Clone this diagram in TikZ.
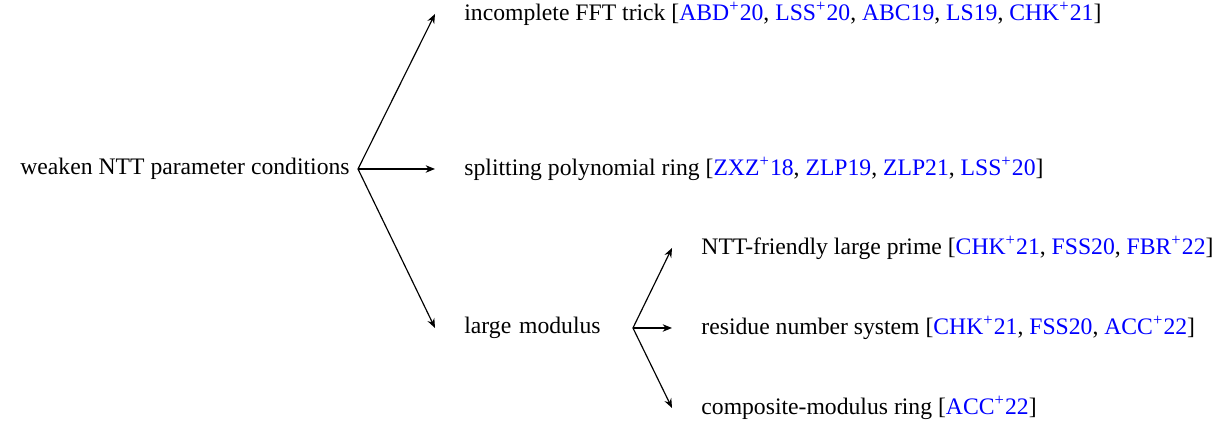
\documentclass[tikz,border=0pt]{standalone}
\usepackage{fontspec}
\setmainfont{Liberation Serif}
\usepackage{xcolor}
\usetikzlibrary{arrows.meta}
\newcommand{\bibref}[1]{{\color{blue}#1}}
\newcommand{\plus}{\textsuperscript{+}}
\tikzset{
	leaf/.style={anchor=west, inner xsep=12.3pt},
	>={Stealth[length=4pt,width=3.2pt]},
}
\begin{document}
\begin{tikzpicture}[font=\fontsize{10.1}{12.2}\selectfont, line width=0.5pt]
						\useasboundingbox (0,0) rectangle (18.3,6.42);
						\node[anchor=east] (root) at (5.37,3.885) {weaken NTT parameter conditions};
						\node[leaf] (fft) at (6.525,6.21) {incomplete FFT trick [\bibref{ABD\plus20}, \bibref{LSS\plus20}, \bibref{ABC19}, \bibref{LS19}, \bibref{CHK\plus21}]};
						\node[leaf] (poly) at (6.525,3.885) {splitting polynomial ring [\bibref{ZXZ\plus18}, \bibref{ZLP19}, \bibref{ZLP21}, \bibref{LSS\plus20}]};
						\node[leaf, text width=2.087cm, align=left] (mod) at (6.525,1.5) {large modulus};
						\node[leaf] (prime) at (10.08,2.7) {NTT-friendly large prime [\bibref{CHK\plus21}, \bibref{FSS20}, \bibref{FBR\plus22}]};
						\node[leaf] (rns) at (10.08,1.5) {residue number system [\bibref{CHK\plus21}, \bibref{FSS20}, \bibref{ACC\plus22}]};
						\node[leaf] (comp) at (10.08,0.3) {composite-modulus ring [\bibref{ACC\plus22}]};
			
						\path [->] (root.east) edge (fft.west);
						\path [->] (root.east) edge (poly.west);
						\path [->] (root.east) edge (mod.west);
						\path [->] (mod.east) edge (prime.west);
						\path [->] (mod.east) edge (rns.west);
						\path [->] (mod.east) edge (comp.west);
					\end{tikzpicture}
\end{document}
